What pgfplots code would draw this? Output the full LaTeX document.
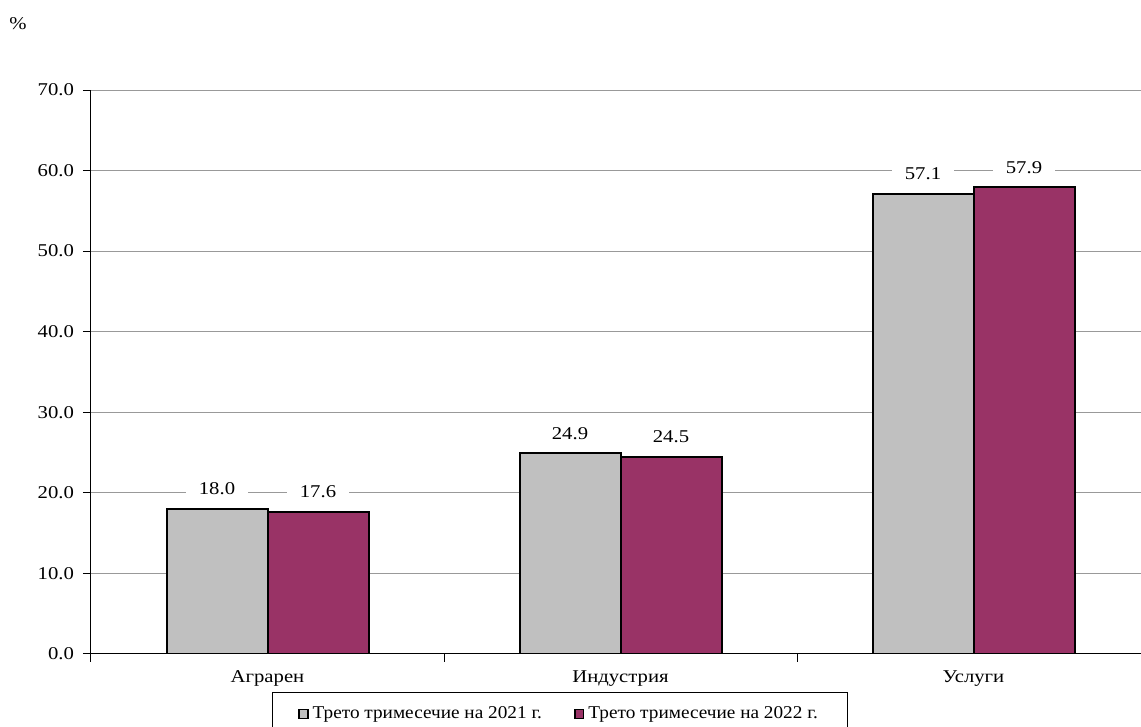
\documentclass[border=0pt]{standalone}
\usepackage{fontspec}
\setmainfont{Liberation Serif}
\newfontfamily\widefont[FakeStretch=1.15]{Liberation Serif}
\newfontfamily\legfont[FakeStretch=1.07]{Liberation Serif}
\usepackage{pgfplots}
\pgfplotsset{compat=1.18}
\definecolor{barGray}{HTML}{C0C0C0}
\definecolor{barPlum}{HTML}{993366}
\begin{document}
\begin{tikzpicture}
% 1 px of the reference = 0.5pt
\path[use as bounding box] (0,0) rectangle (570.5pt,363.5pt);
\node[anchor=north west, inner sep=0pt, font=\widefont\fontsize{9}{10}\selectfont] at (4.5pt,355pt) {\%};
\begin{axis}[
  at={(45.5pt,36.5pt)}, anchor=south west,
  scale only axis, width=529.5pt, height=282pt,
  ybar=0pt, bar width=50.5pt,
  xmin=-0.5, xmax=2.5, ymin=0, ymax=70,
  axis x line*=bottom, axis y line*=left,
  axis line style={black, line width=0.5pt, -},
  xtick={-0.5,0.5,1.5,2.5}, xticklabels={},
  extra x ticks={0,1,2},
  extra x tick labels={Аграрен,Индустрия,Услуги},
  extra x tick style={major tick length=0pt, tick label style={yshift=-5pt}},
  ytick={0,10,...,70},
  yticklabel={\pgfmathprintnumber[fixed,fixed zerofill,precision=1]{\tick}},
  /pgf/number format/assume math mode=true,
  tick align=outside, major tick length=4pt,
  tick style={black, line width=0.5pt},
  ymajorgrids, grid style={gray!80, line width=0.5pt},
  tick label style={font=\widefont\fontsize{9}{10}\selectfont},
  yticklabel style={xshift=-1pt},
  nodes near coords,
  nodes near coords style={font=\widefont\fontsize{9}{10}\selectfont, fill=white,
    inner xsep=6.5pt, inner ysep=1pt, anchor=south, yshift=5.5pt,
    /pgf/number format/.cd, fixed, fixed zerofill, precision=1, assume math mode=true},
  legend columns=2,
  legend style={at={(0.4429,-0.0674)}, anchor=north, draw=black, line width=0.5pt,
    font=\legfont\fontsize{9}{10}\selectfont, inner xsep=13pt, inner ysep=5pt,
    /tikz/every even column/.append style={column sep=14pt}},
  legend image code/.code={\draw[#1, line width=0.8pt] (0pt,-2.2pt) rectangle (4.4pt,2.2pt);},
]
\addplot[fill=barGray, draw=black, line width=1pt] coordinates {(0,18.0) (1,24.9) (2,57.1)};
\addplot[fill=barPlum, draw=black, line width=1pt] coordinates {(0,17.6) (1,24.5) (2,57.9)};
\legend{Трето тримесечие на 2021 г.,Трето тримесечие на 2022 г.}
\end{axis}
\end{tikzpicture}
\end{document}
